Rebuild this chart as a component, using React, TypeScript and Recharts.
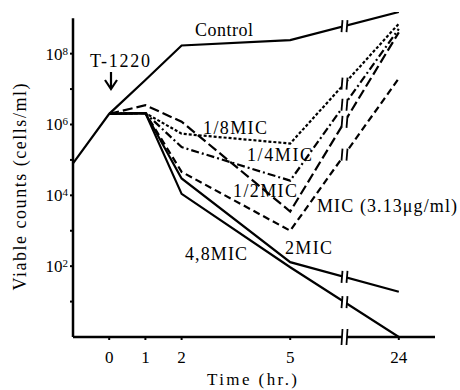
import React from "react";
import {
  LineChart,
  Line,
  XAxis,
  YAxis,
  ReferenceLine,
  ReferenceDot,
  Customized,
} from "recharts";

// sampling times (hr.); -1 is the pre-culture point sitting on the y axis
const TIMES = [-1, 0, 1, 2, 5, 24];

// viable counts (cells/ml) per curve, aligned to TIMES
const CONTROL = [8e4, 2.0e6, 1.8e7, 1.7e8, 2.4e8, 1.5e9];
const MIC_1_8 = [null, 2.0e6, 2.1e6, 5.5e5, 2.9e5, 7e8];
const MIC_1_4 = [null, 2.0e6, 2.1e6, 2.3e5, 2.6e4, 5e8];
const MIC_1_2 = [null, 2.0e6, 3.5e6, 1.2e6, 3.5e3, 4e8];
const MIC_1 = [null, 2.0e6, 2.1e6, 4.6e4, 1.0e3, 2e7];
const MIC_2 = [null, 2.0e6, 2.1e6, 3.0e4, 1.3e2, 19];
const MIC_4_8 = [null, 2.0e6, 2.1e6, 1.1e4, 93, 1];

const X_TICKS = [0, 1, 2, 5, 24];
const Y_TICKS = [10, 1e2, 1e3, 1e4, 1e5, 1e6, 1e7, 1e8];

const SERIES = [
  { key: "control", values: CONTROL, dash: undefined },
  { key: "mic18", values: MIC_1_8, dash: "3 2" },
  { key: "mic14", values: MIC_1_4, dash: "8 3 2 3" },
  { key: "mic12", values: MIC_1_2, dash: "10 4" },
  { key: "mic1", values: MIC_1, dash: "7 4" },
  { key: "mic2", values: MIC_2, dash: undefined },
  { key: "mic48", values: MIC_4_8, dash: undefined },
];

// the axis is broken between 5 and 24 hr, 24 hr is drawn three units after 5
const toAxis = (t: number) => (t === 24 ? 8 : t);
const BREAK_AT = 6.5;

const data = TIMES.map((t, i) => {
  const row: any = { x: toAxis(t) };
  SERIES.forEach((s) => (row[s.key] = s.values[i]));
  return row;
});

// where each line crosses the break, read along the drawn segment 5 -> 24
const breakValue = (values: (number | null)[]) => {
  const a = values[TIMES.indexOf(5)] as number;
  const b = values[TIMES.indexOf(24)] as number;
  const f = (BREAK_AT - toAxis(5)) / (toAxis(24) - toAxis(5));
  return Math.pow(10, Math.log10(a) + f * (Math.log10(b) - Math.log10(a)));
};

const FONT = '"Liberation Serif", "DejaVu Serif", serif';

const BreakMark = (props: any) => {
  const { cx, cy, h = 6 } = props;
  if (cx == null || cy == null) return null;
  return (
    <g>
      <polygon
        points={`${cx - 2},${cy - h} ${cx + 3},${cy - h} ${cx + 2},${cy + h} ${cx - 3},${cy + h}`}
        fill="#fff"
      />
      <line x1={cx - 2} y1={cy - h} x2={cx - 3} y2={cy + h} stroke="#000" strokeWidth={1.8} />
      <line x1={cx + 3} y1={cy - h} x2={cx + 2} y2={cy + h} stroke="#000" strokeWidth={1.8} />
    </g>
  );
};

const YTick = (props: any) => {
  const { x, y, payload } = props;
  const exp = Math.round(Math.log10(payload.value));
  if (exp % 2 !== 0) return null;
  return (
    <text x={x} y={y + 6} textAnchor="end" fontFamily={FONT} fontSize={17} fill="#000">
      10
      <tspan fontSize={11} dy={-5}>
        {exp}
      </tspan>
    </text>
  );
};

const label = (x: number, y: number, text: string, width: number) => (
  <text
    key={text}
    x={x}
    y={y}
    fontFamily={FONT}
    fontSize={18}
    fill="#000"
    textLength={width}
    lengthAdjust="spacing"
  >
    {text}
  </text>
);

const Annotations = () => (
  <g>
    {label(195, 36, "Control", 58)}
    {label(90, 67, "T-1220", 60)}
    <line x1={111} y1={72} x2={111} y2={87} stroke="#000" strokeWidth={2.2} />
    <path d="M105,80 L111,89 L117,80" fill="none" stroke="#000" strokeWidth={2.2} />
    {label(203, 134, "1/8MIC", 64)}
    {label(247, 161, "1/4MIC", 65)}
    {label(233, 197, "1/2MIC", 64)}
    {label(317, 212, "MIC (3.13μg/ml)", 140)}
    {label(285, 254, "2MIC", 47)}
    {label(185, 260, "4,8MIC", 62)}
    <text
      x={252}
      y={385}
      textAnchor="middle"
      fontFamily={FONT}
      fontSize={17}
      fill="#000"
      textLength={90}
      lengthAdjust="spacing"
    >
      Time (hr.)
    </text>
    <text
      transform="translate(26,187) rotate(-90)"
      textAnchor="middle"
      fontFamily={FONT}
      fontSize={18}
      fill="#000"
      textLength={207}
      lengthAdjust="spacing"
    >
      Viable counts (cells/ml)
    </text>
  </g>
);

export default function App() {
  return (
    <div style={{ position: "absolute", left: 0, top: 0, background: "#fff" }}>
      <LineChart
        width={460}
        height={390}
        data={data}
        margin={{ top: 12, right: 25, bottom: 23, left: 23 }}
      >
        <XAxis
          dataKey="x"
          type="number"
          domain={[-1, 9]}
          ticks={X_TICKS.map(toAxis)}
          tickFormatter={(v: number) => (v === toAxis(24) ? "24" : String(v))}
          height={30}
          tickSize={3}
          tickMargin={11}
          axisLine={{ stroke: "#000", strokeWidth: 2.5 }}
          tickLine={{ stroke: "#000", strokeWidth: 2 }}
          tick={{ fill: "#000", fontSize: 17, fontFamily: FONT }}
        />
        <YAxis
          scale="log"
          type="number"
          domain={[1, 1.5e9]}
          ticks={Y_TICKS}
          width={50}
          tickSize={3}
          tickMargin={2}
          axisLine={false}
          tickLine={{ stroke: "#000", strokeWidth: 2 }}
          tick={<YTick />}
          allowDataOverflow
        />
        <ReferenceLine
          segment={[
            { x: -1, y: 1 },
            { x: -1, y: 1e9 },
          ]}
          stroke="#000"
          strokeWidth={2.5}
        />
        {SERIES.map((s) => (
          <Line
            key={s.key}
            dataKey={s.key}
            stroke="#000"
            strokeWidth={2.2}
            strokeDasharray={s.dash}
            dot={false}
            activeDot={false}
            isAnimationActive={false}
            type="linear"
          />
        ))}
        {SERIES.map((s) => (
          <ReferenceDot
            key={"b" + s.key}
            x={BREAK_AT}
            y={breakValue(s.values)}
            r={0}
            shape={(p: any) => <BreakMark {...p} />}
          />
        ))}
        <ReferenceDot x={BREAK_AT} y={1} r={0} shape={(p: any) => <BreakMark {...p} h={8} />} />
        <Customized component={Annotations} />
      </LineChart>
    </div>
  );
}
